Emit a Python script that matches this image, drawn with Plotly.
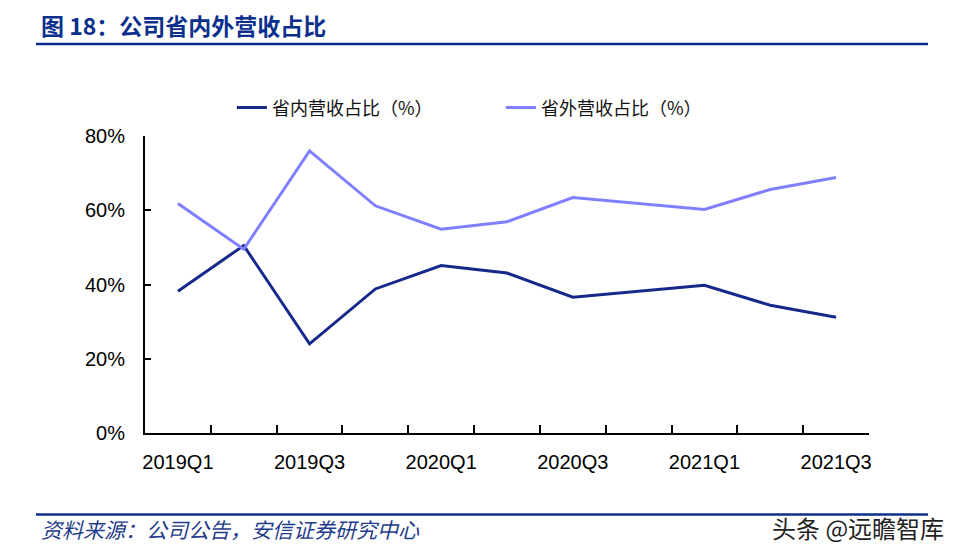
import plotly.graph_objects as go

categories = ["2019Q1", "2019Q2", "2019Q3", "2019Q4", "2020Q1", "2020Q2",
              "2020Q3", "2020Q4", "2021Q1", "2021Q2", "2021Q3"]
inner_share = [38.2, 50.5, 24.0, 38.8, 45.1, 43.1, 36.6, 38.3, 39.8, 34.4, 31.2]
outer_share = [61.8, 49.5, 76.0, 61.2, 54.9, 56.9, 63.4, 61.7, 60.2, 65.6, 68.8]
series_names = ["省内营收占比（%）", "省外营收占比（%）"]
tick_labels = [c if i % 2 == 0 else "" for i, c in enumerate(categories)]
y_ticks = [0, 20, 40, 60, 80]
y_tick_labels = ["0%", "20%", "40%", "60%", "80%"]

DARK = "#16298A"
LIGHT = "#7F7FFF"
BLUE = "#0B2F8C"
CJK = "Noto Sans CJK SC"

fig = go.Figure()
fig.add_trace(go.Scatter(x=categories, y=inner_share, name=series_names[0],
                         mode="lines", line=dict(color=DARK, width=3)))
fig.add_trace(go.Scatter(x=categories, y=outer_share, name=series_names[1],
                         mode="lines", line=dict(color=LIGHT, width=3)))

fig.update_layout(
    width=961, height=557,
    margin=dict(l=145, r=92, t=136, b=124, autoexpand=False),
    paper_bgcolor="white", plot_bgcolor="white",
    showlegend=True,
    legend=dict(orientation="h", x=0.12, xanchor="left", y=1.095, yanchor="middle",
                font=dict(family=CJK, size=18, color="#111"),
                entrywidth=224, entrywidthmode="pixels",
                itemwidth=30, bgcolor="rgba(0,0,0,0)"),
    xaxis=dict(type="category", tickvals=categories, ticktext=tick_labels,
               tickson="boundaries", ticks="inside", ticklen=8, tickwidth=1.5,
               tickcolor="black", showline=True, linecolor="black", linewidth=2,
               showgrid=False, zeroline=False, range=[-0.5, 10.5], tickangle=0,
               automargin=False, ticklabelstandoff=10,
               tickfont=dict(family="Liberation Sans, Arial", size=20, color="black")),
    yaxis=dict(range=[0, 80], tickvals=y_ticks, ticktext=y_tick_labels,
               ticks="inside", ticklen=6, tickwidth=1.5, tickcolor="black",
               showline=True, linecolor="black", linewidth=2, automargin=False,
               showgrid=False, zeroline=False, ticklabelstandoff=14,
               tickfont=dict(family="Liberation Sans, Arial", size=20, color="black")),
)

fig.add_annotation(xref="paper", yref="paper", x=-106/724, y=1 + (136 - 25) / 297,
                   xanchor="left", yanchor="middle", showarrow=False,
                   text="<b>图 18：公司省内外营收占比</b>",
                   font=dict(family=CJK, size=23, color=BLUE))
fig.add_shape(type="line", xref="paper", yref="paper",
              x0=-109/724, x1=(928 - 145) / 724, y0=1 + (136 - 44) / 297, y1=1 + (136 - 44) / 297,
              line=dict(color=BLUE, width=2.5))
fig.add_shape(type="line", xref="paper", yref="paper",
              x0=-109/724, x1=(928 - 145) / 724, y0=-(514.5 - 433) / 297, y1=-(514.5 - 433) / 297,
              line=dict(color=BLUE, width=2.5))
fig.add_annotation(xref="paper", yref="paper", x=-106/724, y=-(529 - 433) / 297,
                   xanchor="left", yanchor="middle", showarrow=False,
                   text="资料来源：公司公告，安信证券研究中心",
                   font=dict(family=CJK, size=21, color="#1F3C8C", style="italic"))
fig.add_annotation(xref="paper", yref="paper", x=(946 - 145) / 724, y=-(527 - 433) / 297,
                   xanchor="right", yanchor="middle", showarrow=False,
                   text="头条 @远瞻智库",
                   font=dict(family=CJK, size=24, color="#222222"))

fig.write_html("out.html", config={"displayModeBar": False},
               post_script="document.body.style.margin='0';")
